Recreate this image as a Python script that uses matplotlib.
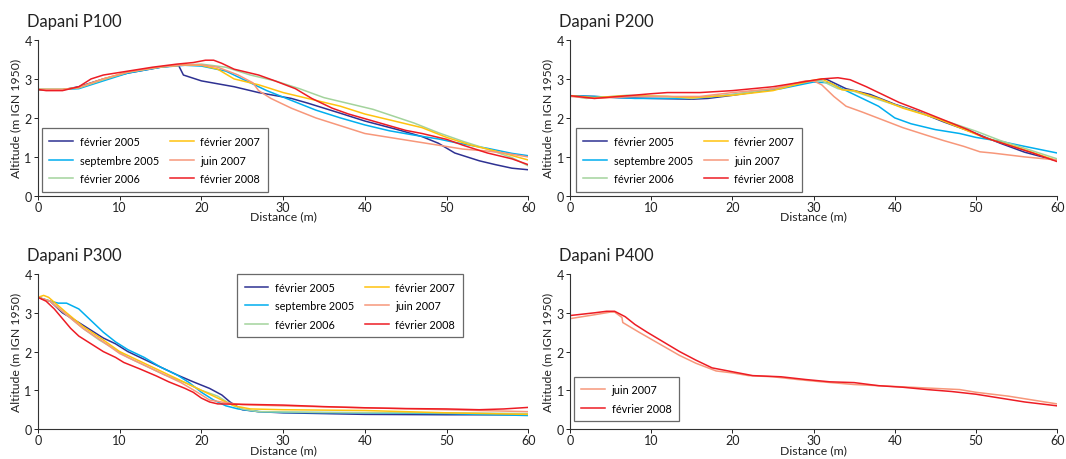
import matplotlib
matplotlib.use("Agg")
import matplotlib.pyplot as plt

plt.rcParams['font.family'] = ['Lato', 'DejaVu Sans']

# series names and colours
labels = ["février 2005", "septembre 2005", "février 2006",
          "février 2007", "juin 2007", "février 2008"]
colors = ["#2e3192", "#00aeef", "#a3d39c", "#ffc20e", "#f7977a", "#ed1c24"]

# Dapani P100
p100 = {
    "février 2005": ([0, 3, 5, 8, 11, 15, 17.2, 17.8, 20, 24, 27, 31, 33, 37, 40, 44, 47, 49, 51, 54, 56, 58, 60],
                     [2.72, 2.72, 2.8, 3.0, 3.15, 3.3, 3.35, 3.1, 2.95, 2.8, 2.65, 2.5, 2.38, 2.12, 1.92, 1.7, 1.52, 1.35, 1.1, 0.9, 0.8, 0.71, 0.67]),
    "septembre 2005": ([0, 3, 5, 8, 11, 15, 18, 20, 23, 26, 28, 31, 34, 37, 40, 43, 46, 49, 51, 55, 58, 60],
                       [2.73, 2.73, 2.75, 2.95, 3.15, 3.3, 3.35, 3.33, 3.2, 2.9, 2.7, 2.45, 2.2, 2.0, 1.82, 1.67, 1.56, 1.46, 1.37, 1.22, 1.09, 1.03]),
    "février 2006": ([0, 3, 5, 8, 11, 15, 18, 20, 23, 26, 29, 32, 35, 38, 41, 43, 46, 49, 52, 55, 58, 60],
                     [2.73, 2.73, 2.77, 2.98, 3.17, 3.31, 3.36, 3.38, 3.3, 3.1, 2.95, 2.75, 2.52, 2.37, 2.22, 2.08, 1.87, 1.62, 1.4, 1.2, 0.98, 0.77]),
    "février 2007": ([0, 3, 5, 8, 11, 15, 18, 20, 22, 24, 27, 30, 34, 37, 40, 44, 47, 50, 53, 56, 60],
                     [2.73, 2.73, 2.78, 3.0, 3.18, 3.31, 3.36, 3.35, 3.25, 3.0, 2.85, 2.65, 2.45, 2.3, 2.1, 1.9, 1.75, 1.5, 1.3, 1.15, 0.92]),
    "juin 2007": ([0, 3, 5, 8, 11, 15, 18, 20, 22, 24.5, 26.3, 27, 28.5, 31, 34, 37, 40, 43, 46, 49, 52, 55, 57, 60],
                  [2.73, 2.73, 2.78, 3.0, 3.18, 3.31, 3.36, 3.36, 3.3, 3.1, 2.9, 2.7, 2.5, 2.25, 2.0, 1.8, 1.6, 1.5, 1.4, 1.3, 1.2, 1.15, 1.1, 1.0]),
    "février 2008": ([0, 1, 3, 5, 6.5, 8, 11, 14, 17, 19, 20.5, 21.5, 22.5, 24, 27, 29, 31.5, 33.5, 36, 38, 40.5, 43, 45, 47, 50, 52, 55, 58, 60],
                     [2.73, 2.7, 2.7, 2.8, 3.0, 3.1, 3.2, 3.3, 3.38, 3.42, 3.48, 3.48, 3.4, 3.25, 3.1, 2.95, 2.75, 2.5, 2.25, 2.1, 1.95, 1.8, 1.68, 1.6, 1.45, 1.3, 1.1, 0.95, 0.8]),
}

# Dapani P200
p200 = {
    "février 2005": ([0, 3, 6, 10, 15, 17, 20, 24, 27, 30, 31.5, 32.5, 34, 37, 40, 43, 46, 50, 53, 56, 60],
                     [2.57, 2.55, 2.52, 2.5, 2.48, 2.5, 2.58, 2.7, 2.82, 2.95, 3.0, 2.9, 2.75, 2.6, 2.35, 2.15, 1.9, 1.6, 1.35, 1.12, 0.9]),
    "septembre 2005": ([0, 3, 8, 12, 15, 18, 22, 26, 30, 32, 34, 35, 38, 40, 42, 45, 48, 50, 53, 56, 60],
                       [2.57, 2.55, 2.5, 2.5, 2.5, 2.55, 2.65, 2.75, 2.92, 2.9, 2.7, 2.6, 2.3, 2.0, 1.85, 1.7, 1.6, 1.5, 1.4, 1.27, 1.1]),
    "février 2006": ([0, 2, 7, 12, 15, 20, 25, 30, 31, 33, 35, 38, 41, 44, 47, 50, 53, 56, 60],
                     [2.57, 2.5, 2.58, 2.55, 2.5, 2.6, 2.75, 2.95, 2.95, 2.75, 2.68, 2.47, 2.27, 2.07, 1.87, 1.66, 1.42, 1.22, 0.95]),
    "février 2007": ([0, 3, 7, 12, 15, 20, 25, 29.5, 31, 32.5, 33.5, 35, 38, 41, 45, 48, 51, 55, 60],
                     [2.57, 2.52, 2.57, 2.55, 2.52, 2.58, 2.7, 2.95, 3.0, 2.85, 2.72, 2.7, 2.5, 2.25, 2.0, 1.75, 1.5, 1.25, 0.9]),
    "juin 2007": ([0, 3, 8, 12, 16, 20, 25, 29, 30, 31, 32.5, 34, 36, 38.5, 41, 44, 46, 48.5, 50.5, 52, 56, 60],
                  [2.55, 2.5, 2.55, 2.55, 2.55, 2.65, 2.75, 2.95, 2.95, 2.85, 2.55, 2.3, 2.15, 1.95, 1.75, 1.55, 1.42, 1.27, 1.13, 1.1, 1.0, 0.92]),
    "février 2008": ([0, 3, 6, 10, 12, 16, 20, 25, 28, 31, 33, 34.5, 36.5, 38.5, 40.5, 43, 46, 49, 51, 54, 57, 60],
                     [2.57, 2.5, 2.55, 2.62, 2.65, 2.65, 2.7, 2.8, 2.9, 3.0, 3.03, 2.98, 2.8, 2.6, 2.4, 2.2, 1.95, 1.7, 1.5, 1.3, 1.1, 0.88]),
}

# Dapani P300
p300 = {
    "février 2005": ([0, 1.5, 3, 5, 6.5, 8, 9.5, 11, 13, 15, 17, 19, 21, 22.5, 23.5, 25, 27, 30, 35, 40, 50, 60],
                     [3.4, 3.3, 3.0, 2.75, 2.55, 2.35, 2.2, 2.0, 1.8, 1.6, 1.4, 1.22, 1.05, 0.88, 0.7, 0.5, 0.45, 0.42, 0.4, 0.38, 0.37, 0.37]),
    "septembre 2005": ([0, 1.5, 2.5, 3.5, 5, 6.5, 8, 9.5, 11, 13, 15, 17, 18.5, 20, 21.5, 23, 24.5, 27, 30, 40, 50, 60],
                       [3.4, 3.3, 3.25, 3.25, 3.1, 2.8, 2.5, 2.25, 2.05, 1.85, 1.6, 1.4, 1.2, 0.95, 0.75, 0.6, 0.52, 0.45, 0.43, 0.42, 0.4, 0.35]),
    "février 2006": ([0, 1.5, 3.5, 5.5, 7.5, 9.5, 11, 13.5, 15.5, 18, 20, 22, 23.5, 25, 27, 35, 50, 60],
                     [3.4, 3.3, 2.95, 2.6, 2.3, 2.05, 1.85, 1.6, 1.4, 1.2, 1.0, 0.85, 0.65, 0.52, 0.45, 0.43, 0.42, 0.4]),
    "février 2007": ([0, 0.7, 1.3, 3.5, 5.5, 8, 10, 12.5, 15, 17.5, 20, 22, 24, 26, 30, 40, 50, 60],
                     [3.4, 3.45, 3.4, 3.0, 2.65, 2.3, 2.0, 1.75, 1.5, 1.25, 1.0, 0.8, 0.6, 0.52, 0.5, 0.48, 0.42, 0.38]),
    "juin 2007": ([0, 1.5, 3.5, 5.5, 8, 10, 12.5, 15, 17.5, 19.5, 21, 23, 25, 30, 40, 50, 60],
                  [3.4, 3.3, 2.95, 2.6, 2.25, 1.95, 1.7, 1.45, 1.2, 0.95, 0.75, 0.68, 0.63, 0.6, 0.55, 0.5, 0.45]),
    "février 2008": ([0, 1, 2, 3, 4, 5, 6.5, 8, 9.5, 10.5, 12.5, 14.5, 16, 18, 19, 20, 21, 22, 25, 30, 35, 40, 45, 50, 54, 57, 60],
                     [3.4, 3.3, 3.1, 2.85, 2.6, 2.4, 2.2, 2.0, 1.85, 1.72, 1.55, 1.37, 1.22, 1.05, 0.95, 0.8, 0.7, 0.65, 0.64, 0.62, 0.58, 0.55, 0.53, 0.52, 0.5, 0.52, 0.56]),
}

# Dapani P400
p400 = {
    "juin 2007": ([0, 3, 5, 5.5, 6.4, 6.5, 8.5, 11, 13.5, 15.5, 18, 20, 22, 25, 28, 31, 35, 40, 45, 48, 50, 54, 57, 60],
                  [2.85, 2.95, 3.02, 3.02, 2.88, 2.75, 2.5, 2.2, 1.9, 1.7, 1.5, 1.45, 1.38, 1.35, 1.28, 1.22, 1.15, 1.1, 1.05, 1.02, 0.95, 0.85, 0.75, 0.65]),
    "février 2008": ([0, 3, 4.5, 5.5, 6.8, 8, 9.5, 11.5, 13.5, 15.5, 17.5, 20, 22.5, 26, 29, 32, 35, 38, 41, 44, 47, 50, 53, 56, 60],
                     [2.93, 3.0, 3.04, 3.04, 2.9, 2.7, 2.5, 2.25, 2.0, 1.78, 1.58, 1.48, 1.38, 1.35, 1.28, 1.22, 1.2, 1.12, 1.08, 1.02, 0.97, 0.9, 0.8, 0.7, 0.6]),
}

panels = [
    ("Dapani P100", p100, [0.0356, 0.572, 0.460, 0.339], "lower left", (0.008, 0.026), 2),
    ("Dapani P200", p200, [0.5347, 0.572, 0.457, 0.339], "lower left", (0.012, 0.026), 2),
    ("Dapani P300", p300, [0.0356, 0.065, 0.460, 0.337], "upper left", (0.406, 1.0), 2),
    ("Dapani P400", p400, [0.5347, 0.065, 0.457, 0.337], "lower left", (0.008, 0.05), 1),
]

fig = plt.figure(figsize=(10.66, 4.6), dpi=100)

for title, data, pos, loc, anchor, ncol in panels:
    ax = fig.add_axes(pos)
    for lab, col in zip(labels, colors):
        if lab in data:
            x, y = data[lab]
            ax.plot(x, y, color=col, lw=1.1, label=lab)
    ax.set_xlim(0, 60)
    ax.set_ylim(0, 4)
    ax.set_xticks(range(0, 61, 10))
    ax.set_yticks(range(0, 5))
    for s in ["top", "right"]:
        ax.spines[s].set_visible(False)
    for s in ["left", "bottom"]:
        ax.spines[s].set_color("#333333")
        ax.spines[s].set_linewidth(0.8)
    ax.tick_params(direction="out", length=3, width=0.7, labelsize=9,
                   pad=1.5, colors="#222222")
    ax.tick_params(axis="x", pad=0.5)
    ax.set_xlabel("Distance (m)", fontsize=8.8, labelpad=-1.5, color="#222222")
    ax.set_ylabel("Altitude (m IGN 1950)", fontsize=8.8, labelpad=2, color="#222222")
    ax.text(-0.022, 1.12, title, transform=ax.transAxes, fontsize=12,
            ha="left", va="center", color="#222222")
    leg = ax.legend(loc=loc, bbox_to_anchor=anchor, ncol=ncol, fontsize=7.8,
                    frameon=True, fancybox=False, handlelength=2.2,
                    columnspacing=1.0, borderpad=0.7, labelspacing=0.7,
                    handletextpad=0.6, borderaxespad=0)
    leg.get_frame().set_edgecolor("#444444")
    leg.get_frame().set_linewidth(0.9)

fig.savefig("out.png", dpi=100)
